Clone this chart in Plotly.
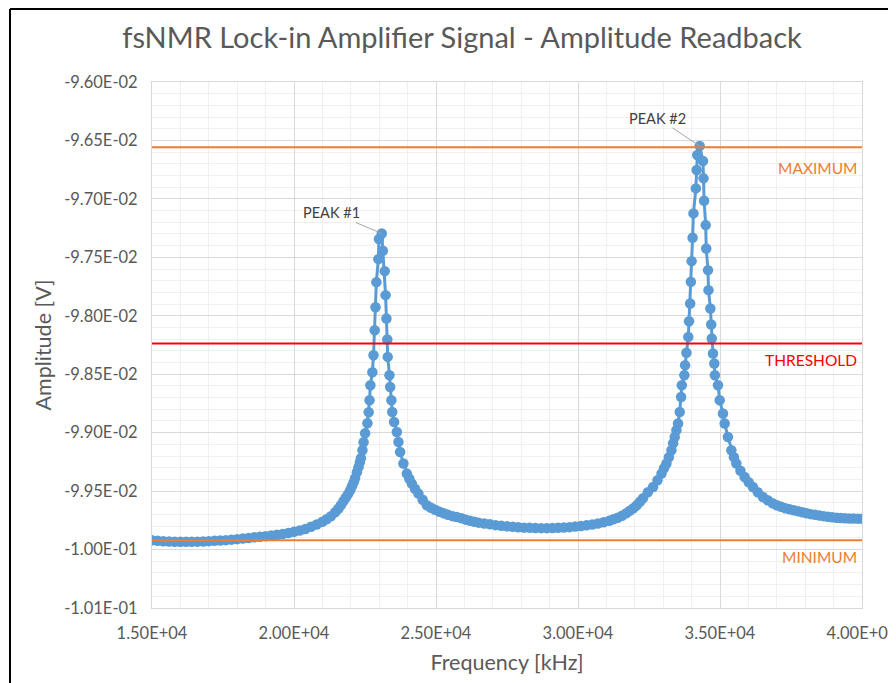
import plotly.graph_objects as go

# ---------------- data ----------------
FREQ_KHZ = [
    15000, 15200, 15400, 15600, 15800, 16000, 16200, 16400, 16600, 16800,
    17000, 17200, 17400, 17600, 17800, 18000, 18200, 18400, 18600, 18800,
    19000, 19200, 19400, 19600, 19800, 20000, 20200, 20400, 20600, 20800,
    21000, 21150, 21300, 21450, 21560, 21650, 21740, 21820, 21900, 21980,
    22040, 22100, 22150, 22215, 22270, 22320, 22355, 22410, 22450, 22505,
    22585, 22630, 22660, 22690, 22760, 22800, 22840, 22870, 22900, 22970,
    22990, 23090,
    23129, 23195, 23225, 23255, 23285, 23300, 23361, 23386, 23430, 23460,
    23526, 23621, 23677, 23737, 23853, 23973, 24060, 24149, 24260, 24381,
    24530, 24676,
    24820, 24968, 25120, 25270, 25420, 25580, 25731, 25900, 26050, 26200,
    26350, 26500, 26700, 26900, 27100, 27300, 27500, 27700, 27900, 28100,
    28300, 28500, 28700, 28900, 29100, 29300, 29500, 29700, 29900, 30100,
    30300, 30500, 30700, 30900, 31100, 31250, 31400, 31550, 31700, 31824,
    31950, 32070, 32180, 32290, 32460, 32643, 32800, 32939, 33030, 33114,
    33200, 33290, 33350, 33406, 33465, 33522, 33582, 33630, 33655, 33745,
    33770, 33818, 33885, 33910, 33950, 33975, 34000, 34035, 34065, 34150,
    34180, 34200, 34285,
    34401, 34420, 34440, 34496, 34515, 34577, 34595, 34661, 34690, 34710,
    34753, 34800, 34820, 34929, 34989, 35104, 35164, 35280, 35400, 35490,
    35576, 35720, 35867, 36010, 36159, 36330, 36511, 36680, 36852, 37000,
    37150, 37300, 37450, 37600, 37750, 37900, 38050, 38200, 38350, 38500,
    38650, 38800, 38950, 39100, 39250, 39400, 39550, 39700, 39850, 40000,
]

AMPLITUDE_V = [
    -0.0999212, -0.0999255, -0.0999289, -0.0999315, -0.0999332, -0.0999341, -0.0999341, -0.0999332, -0.0999323, -0.0999306,
    -0.0999281, -0.0999255, -0.0999229, -0.0999195, -0.0999152, -0.0999109, -0.0999058, -0.0999007, -0.0998955, -0.0998904,
    -0.0998853, -0.0998793, -0.0998733, -0.0998664, -0.0998579, -0.0998484, -0.0998373, -0.0998236, -0.0998056, -0.0997860,
    -0.0997628, -0.0997414, -0.0997157, -0.0996815, -0.0996515, -0.0996216, -0.0995873, -0.0995573, -0.0995274, -0.0994931,
    -0.0994589, -0.0994246, -0.0993904, -0.0993390, -0.0992962, -0.0992534, -0.0992192, -0.0991507, -0.0990822, -0.0990051,
    -0.0989195, -0.0988253, -0.0987226, -0.0985942, -0.0984829, -0.0983373, -0.0981233, -0.0979264, -0.0977123, -0.0975154,
    -0.0973442, -0.0972954,
    -0.0974443, -0.0976181, -0.0978236, -0.0980231, -0.0982029, -0.0983519, -0.0985085, -0.0986087, -0.0987226, -0.0988227,
    -0.0989084, -0.0989940, -0.0990796, -0.0991652, -0.0992645, -0.0993502, -0.0993947, -0.0994358, -0.0994803, -0.0995214,
    -0.0995745, -0.0996216,
    -0.0996430, -0.0996601, -0.0996772, -0.0996901, -0.0997029, -0.0997140, -0.0997217, -0.0997329, -0.0997440, -0.0997543,
    -0.0997628, -0.0997697, -0.0997774, -0.0997842, -0.0997911, -0.0997971, -0.0998014, -0.0998056, -0.0998099, -0.0998125,
    -0.0998142, -0.0998159, -0.0998168, -0.0998168, -0.0998159, -0.0998142, -0.0998116, -0.0998082, -0.0998031, -0.0997979,
    -0.0997928, -0.0997860, -0.0997774, -0.0997671, -0.0997543, -0.0997414, -0.0997286, -0.0997115, -0.0996901, -0.0996686,
    -0.0996472, -0.0996216, -0.0995916, -0.0995616, -0.0995103, -0.0994649, -0.0994075, -0.0993502, -0.0993048, -0.0992645,
    -0.0992106, -0.0991507, -0.0990907, -0.0990368, -0.0989794, -0.0989221, -0.0988227, -0.0986943, -0.0985942, -0.0985085,
    -0.0984229, -0.0983159, -0.0981806, -0.0980462, -0.0978947, -0.0977098, -0.0975325, -0.0973330, -0.0971241, -0.0969101,
    -0.0967534, -0.0966250, -0.0965479,
    -0.0966764, -0.0968245, -0.0970163, -0.0972243, -0.0974238, -0.0976096, -0.0977808, -0.0979375, -0.0980745, -0.0981943,
    -0.0983228, -0.0984084, -0.0985085, -0.0985942, -0.0987226, -0.0988365, -0.0989221, -0.0990368, -0.0991507, -0.0992106,
    -0.0992645, -0.0993262, -0.0993793, -0.0994246, -0.0994649, -0.0995103, -0.0995505, -0.0995787, -0.0996044, -0.0996216,
    -0.0996344, -0.0996472, -0.0996558, -0.0996644, -0.0996729, -0.0996815, -0.0996901, -0.0996969, -0.0997029, -0.0997089,
    -0.0997140, -0.0997192, -0.0997243, -0.0997277, -0.0997303, -0.0997320, -0.0997337, -0.0997346, -0.0997354, -0.0997354,
]

MAXIMUM_V = -0.096559
THRESHOLD_V = -0.098237
MINIMUM_V = -0.099921

PEAK1 = (23090, -0.0972954)
PEAK2 = (34285, -0.0965479)

X_TICK_VALUES = [15000, 20000, 25000, 30000, 35000, 40000]
X_TICK_LABELS = ["1.50E+04", "2.00E+04", "2.50E+04", "3.00E+04", "3.50E+04", "4.00E+04"]
Y_TICK_VALUES = [-0.0960, -0.0965, -0.0970, -0.0975, -0.0980, -0.0985, -0.0990, -0.0995, -0.1000, -0.1005]
Y_TICK_LABELS = ["-9.60E-02", "-9.65E-02", "-9.70E-02", "-9.75E-02", "-9.80E-02",
                 "-9.85E-02", "-9.90E-02", "-9.95E-02", "-1.00E-01", "-1.01E-01"]

# ---------------- styling ----------------
FONT = "Lato, 'Open Sans', sans-serif"
TXT = "#595959"
BLUE = "#5B9BD5"
ORANGE = "#ED7D31"
RED = "#FF0000"

fig = go.Figure()

fig.add_trace(go.Scatter(
    x=FREQ_KHZ, y=AMPLITUDE_V, mode="lines+markers",
    line=dict(color=BLUE, width=3),
    marker=dict(color=BLUE, size=10.5, line=dict(width=0)),
    name="Amplitude", showlegend=False,
))

x_span = [FREQ_KHZ[0], FREQ_KHZ[-1]]
for val, col in [(MAXIMUM_V, ORANGE), (THRESHOLD_V, RED), (MINIMUM_V, ORANGE)]:
    fig.add_trace(go.Scatter(
        x=x_span, y=[val, val], mode="lines",
        line=dict(color=col, width=2), showlegend=False, hoverinfo="skip",
    ))

# right side labels for reference lines
for text, val, col, ys in [("MAXIMUM", MAXIMUM_V, ORANGE, -10), ("THRESHOLD", THRESHOLD_V, RED, -6),
                           ("MINIMUM", MINIMUM_V, ORANGE, -6)]:
    fig.add_annotation(
        x=FREQ_KHZ[-1], y=val, xref="x", yref="y", text=text, showarrow=False,
        xanchor="right", yanchor="top", xshift=-3, yshift=ys,
        font=dict(family=FONT, size=15.5, color=col),
    )

# peak labels
fig.add_annotation(
    x=PEAK1[0], y=PEAK1[1], text="PEAK #1", showarrow=True, arrowhead=0,
    arrowwidth=1, arrowcolor="#A6A6A6", ax=-50, ay=-21,
    font=dict(family=FONT, size=14.5, color="#404040"),
)
fig.add_annotation(
    x=PEAK2[0], y=PEAK2[1], text="PEAK #2", showarrow=True, arrowhead=0,
    arrowwidth=1, arrowcolor="#A6A6A6", ax=-42, ay=-28,
    font=dict(family=FONT, size=14.5, color="#404040"),
)

# chart border (left and top edges visible in the crop)
fig.add_shape(type="line", xref="paper", yref="paper", x0=-0.2, x1=1.2, y0=1.1388, y1=1.1388,
              line=dict(color="black", width=2))
fig.add_shape(type="line", xref="paper", yref="paper", x0=-0.2, x1=-0.2, y0=-0.2, y1=1.1388,
              line=dict(color="black", width=2))

# the page body adds an 8 px margin, so the figure is 8 px smaller than the window
fig.update_layout(
    width=888, height=675,
    margin=dict(l=144, r=34, t=74, b=75, autoexpand=False),
    paper_bgcolor="white", plot_bgcolor="white",
    showlegend=False,
    title=dict(text="fsNMR Lock-in Amplifier Signal - Amplitude Readback",
               x=0.5113, xanchor="center", y=0.9556, yanchor="middle",
               font=dict(family=FONT, size=29, color=TXT)),
    font=dict(family=FONT, color=TXT),
)

fig.update_xaxes(
    range=[15000, 40000], automargin=False,
    tickmode="array", tickvals=X_TICK_VALUES, ticktext=X_TICK_LABELS,
    tickfont=dict(family=FONT, size=16.5, color=TXT), ticklabeloverflow="allow",
    showgrid=True, gridcolor="#D9D9D9", gridwidth=1,
    minor=dict(dtick=1000, tick0=15000, showgrid=True, gridcolor="#F0F0F0", gridwidth=1),
    showline=True, linecolor="#D9D9D9", linewidth=1, mirror=True,
    zeroline=False, ticks="", ticklabelstandoff=10,
    title=dict(text="Frequency [kHz]", font=dict(family=FONT, size=21.5, color=TXT), standoff=13),
)
fig.update_yaxes(
    range=[-0.1005, -0.0960], automargin=False,
    tickmode="array", tickvals=Y_TICK_VALUES, ticktext=Y_TICK_LABELS,
    tickfont=dict(family=FONT, size=16.5, color=TXT), ticklabeloverflow="allow",
    showgrid=True, gridcolor="#D9D9D9", gridwidth=1,
    minor=dict(dtick=0.0001, tick0=-0.096, showgrid=True, gridcolor="#F0F0F0", gridwidth=1),
    showline=True, linecolor="#D9D9D9", linewidth=1, mirror=True,
    zeroline=False, ticks="", ticklabelstandoff=10,
    title=dict(text="Amplitude [V]", font=dict(family=FONT, size=21.5, color=TXT), standoff=6),
)

fig.write_html("out.html")
